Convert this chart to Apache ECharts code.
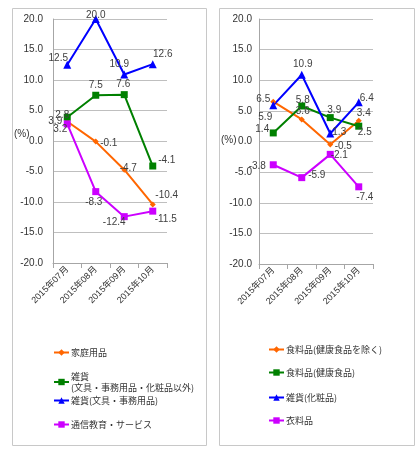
<!DOCTYPE html>
<html><head><meta charset="utf-8">
<script src="https://cdn.jsdelivr.net/npm/echarts@6/dist/echarts.min.js"></script>
<style>html,body{margin:0;padding:0;background:#fff}#c{width:419px;height:450px}</style>
</head><body><div id="c"></div>
<script>
// ---- data ----
const categories = ['2015年07月', '2015年08月', '2015年09月', '2015年10月'];
const yMin = -20, yMax = 20, yStep = 5;

// left panel
const nameKatei = '家庭用品';
const nameZakkaOther = '雑貨\n(文具・事務用品・化粧品以外)';
const nameZakkaBungu = '雑貨(文具・事務用品)';
const nameTsushin = '通信教育・サービス';
const kateiValues = [3.2, -0.1, -4.7, -10.4];
const zakkaOtherValues = [3.9, 7.5, 7.6, -4.1];
const zakkaBunguValues = [12.5, 20.0, 10.9, 12.6];
const tsushinValues = [2.8, -8.3, -12.4, -11.5];

// right panel
const nameFoodEx = '食料品(健康食品を除く)';
const nameFoodHealth = '食料品(健康食品)';
const nameZakkaCosme = '雑貨(化粧品)';
const nameClothing = '衣料品';
const foodExValues = [6.5, 3.6, -0.5, 3.4];
const foodHealthValues = [1.4, 5.8, 3.9, 2.5];
const zakkaCosmeValues = [5.9, 10.9, 1.3, 6.4];
const clothingValues = [-3.8, -5.9, -2.1, -7.4];

// ---- label placement (style only) ----
const offKatei = [[-7, 8], [13, 2], [4, -1], [14, -9]];
const offZakkaOther = [[-12, 4], [0, -10], [-1, -10], [14, -6]];
const offZakkaBungu = [[-9, -7], [0, -4], [-5, -10], [10, -10]];
const offTsushin = [[-5, -9], [-2, 11], [-10, 6], [13, 8]];
const offFoodEx = [[-10, -2], [1, -8], [13, 2], [5, -7]];
const offFoodHealth = [[-11, -4], [1, -6], [4, -7], [6, 6]];
const offZakkaCosme = [[-8, 12], [1, -10], [9, -1], [8, -4]];
const offClothing = [[-16, 1], [15, -2], [9, 1], [6, 10]];

const ORANGE = '#FF6600', GREEN = '#008000', BLUE = '#0000FF', MAGENTA = '#CC00FF';
const FONT = '"Liberation Sans", "Noto Sans CJK JP", sans-serif';

function mk(name, values, color, symbol, size, gi, offsets) {
  return {
    type: 'line', name: name, xAxisIndex: gi, yAxisIndex: gi,
    data: values.map((v, i) => ({ value: v, label: { offset: offsets[i] } })),
    symbol: symbol, symbolSize: size,
    lineStyle: { color: color, width: 2 },
    itemStyle: { color: color },
    label: { show: true, position: 'inside', color: '#404040', fontSize: 10, fontFamily: FONT,
      formatter: p => Number(p.value).toFixed(1) },
    animation: false
  };
}

const series = [
  mk(nameKatei, kateiValues, ORANGE, 'diamond', 6, 0, offKatei),
  mk(nameZakkaOther, zakkaOtherValues, GREEN, 'rect', 7, 0, offZakkaOther),
  mk(nameZakkaBungu, zakkaBunguValues, BLUE, 'triangle', 8, 0, offZakkaBungu),
  mk(nameTsushin, tsushinValues, MAGENTA, 'rect', 7, 0, offTsushin),
  mk(nameFoodEx, foodExValues, ORANGE, 'diamond', 6, 1, offFoodEx),
  mk(nameFoodHealth, foodHealthValues, GREEN, 'rect', 7, 1, offFoodHealth),
  mk(nameZakkaCosme, zakkaCosmeValues, BLUE, 'triangle', 8, 1, offZakkaCosme),
  mk(nameClothing, clothingValues, MAGENTA, 'rect', 7, 1, offClothing)
];

function xAx(gi) {
  return {
    type: 'category', gridIndex: gi, data: categories, boundaryGap: true,
    axisLine: { onZero: false, lineStyle: { color: '#A6A6A6' } },
    axisTick: { show: true, alignWithLabel: false, lineStyle: { color: '#A6A6A6' } },
    axisLabel: { rotate: 45, fontSize: 9, color: '#333', margin: 5, fontFamily: FONT, interval: 0 }
  };
}
function yAx(gi, margin) {
  return {
    type: 'value', gridIndex: gi, min: yMin, max: yMax, interval: yStep,
    axisLine: { show: true, lineStyle: { color: '#A6A6A6' } },
    axisTick: { show: false },
    splitLine: { lineStyle: { color: '#BFBFBF' } },
    axisLabel: { fontSize: 10, color: '#333', margin: margin, fontFamily: FONT,
      formatter: v => v.toFixed(1) }
  };
}

function lg(name, left, centerY) {
  const lines = name.split('\n').length;
  return {
    data: [name], left: left, top: centerY - 6 * lines, orient: 'vertical', padding: 0,
    itemWidth: 15, itemHeight: 8, itemGap: 0,
    textStyle: { fontSize: 9, lineHeight: 11, color: '#333', fontFamily: '"Noto Sans CJK JP", sans-serif', padding: [0, 0, 0, -3] }
  };
}

const option = {
  animation: false,
  grid: [
    { left: 53, top: 19, width: 114, height: 244 },
    { left: 259, top: 19, width: 114, height: 245 }
  ],
  xAxis: [xAx(0), xAx(1)],
  yAxis: [yAx(0, 10), yAx(1, 7)],
  legend: [
    lg(nameKatei, 53, 353),
    lg(nameZakkaOther, 53, 383),
    lg(nameZakkaBungu, 53, 401),
    lg(nameTsushin, 53, 425),
    lg(nameFoodEx, 268, 350),
    lg(nameFoodHealth, 268, 373),
    lg(nameZakkaCosme, 268, 398),
    lg(nameClothing, 268, 421)
  ],
  graphic: [
    { type: 'rect', shape: { x: 12.5, y: 8.5, width: 194, height: 437 }, style: { fill: 'none', stroke: '#C8C8C8', lineWidth: 1 }, silent: true },
    { type: 'rect', shape: { x: 219.5, y: 8.5, width: 195, height: 437 }, style: { fill: 'none', stroke: '#C8C8C8', lineWidth: 1 }, silent: true },
    { type: 'text', left: 14, top: 129, style: { text: '(%)', fontSize: 10, fill: '#333', fontFamily: FONT } },
    { type: 'text', left: 221, top: 135, style: { text: '(%)', fontSize: 10, fill: '#333', fontFamily: FONT } }
  ],
  series: series
};

const chart = echarts.init(document.getElementById('c'), null, { renderer: 'canvas' });
chart.setOption(option);
</script>
</body></html>
